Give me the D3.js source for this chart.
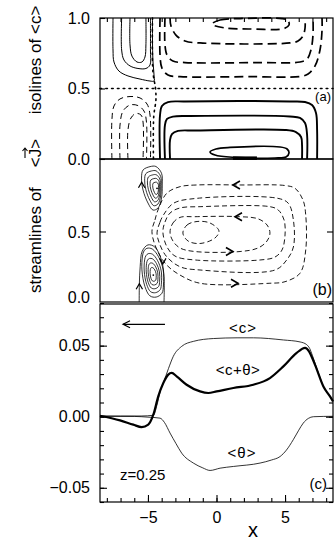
<!DOCTYPE html>
<html>
<head>
<meta charset="utf-8">
<script src="https://cdn.jsdelivr.net/npm/d3@7"></script>
<style>
  body { margin: 0; background: #fff; }
  text { font-family: "Liberation Sans", Arial, sans-serif; fill: #000; }
</style>
</head>
<body>
<svg width="335" height="540"></svg>
<script>
// ---- tick labels ----
const xTickLabels = [-5, 0, 5];
const zTickLabels = [0, 0.5, 1];
const cTickLabels = [-0.05, 0, 0.05];

// ---- panel (c): profiles at z = 0.25, [x, value] ----
const cMean = [[-8.5, 0.0005], [-7, 0.0005], [-5.5, 0.0005], [-4.6, 0.001], [-4.35, 0.008], [-4.1, 0.018],
  [-3.88, 0.0237], [-3.5, 0.034], [-3.15, 0.0425], [-2.54, 0.0495], [-1.69, 0.053], [-0.23, 0.055],
  [1.5, 0.0555], [2.69, 0.0555], [4.88, 0.054], [6.1, 0.0526], [6.58, 0.0507], [6.8, 0.048],
  [7.0, 0.043], [7.31, 0.0343], [7.8, 0.0213], [8.28, 0.0143], [8.5, 0.0108]];
const thetaMean = [[-8.5, 0.0003], [-6, 0.0002], [-5, -0.0003], [-4.12, -0.001], [-3.8, -0.004],
  [-3.39, -0.0115], [-2.95, -0.019], [-2.54, -0.0256], [-1.69, -0.0326], [-1.0, -0.036], [-0.47, -0.0378],
  [0.26, -0.0362], [1.23, -0.035], [3.18, -0.0326], [4.0, -0.0305], [4.64, -0.028], [5.1, -0.0235],
  [5.6, -0.0162], [6.0, -0.0095], [6.33, -0.0045], [6.7, -0.0012], [7.07, 0], [8.5, 0.0003]];
const cPlusTheta = [[-8.5, 0.0007], [-7.04, -0.0026], [-6.07, -0.0056], [-5.46, -0.0073], [-4.98, -0.0056],
  [-4.61, 0.0014], [-4.25, 0.0143], [-3.88, 0.0237], [-3.52, 0.0296], [-3.27, 0.0308], [-2.91, 0.0284],
  [-2.18, 0.0225], [-1.2, 0.0178], [-0.6, 0.0167], [0.01, 0.0178], [1.23, 0.0202], [2.69, 0.0225],
  [3.9, 0.0272], [4.88, 0.0354], [5.85, 0.0449], [6.46, 0.0484], [6.75, 0.046], [7.0, 0.041],
  [7.31, 0.0335], [7.8, 0.0213], [8.28, 0.0143], [8.5, 0.0108]];
const arrowC = [[-3.76, 0.065], [-6.82, 0.065]];

// ---- panel (a): isolines of <c>, [x, z] ----
const isoUpperLeft = [
  [[-7.55, 1], [-7.55, 0.773], [-7.48, 0.688], [-7.12, 0.624], [-6.46, 0.589], [-5.58, 0.567], [-4.85, 0.553], [-4.56, 0.553], [-4.56, 0.596], [-4.64, 0.702], [-4.67, 0.844], [-4.67, 1]],
  [[-6.92, 1], [-6.92, 0.773], [-6.75, 0.702], [-6.31, 0.66], [-5.73, 0.642], [-5.15, 0.642], [-4.85, 0.667], [-4.82, 0.773], [-4.82, 1]],
  [[-6.31, 1], [-6.31, 0.809], [-6.17, 0.73], [-5.8, 0.688], [-5.44, 0.688], [-5.22, 0.723], [-5.15, 0.809], [-5.15, 1]]
];
const isoUpperRight = [
  [[-4.12, 1], [-4.12, 0.738], [-3.98, 0.645], [-3.54, 0.596], [-2.66, 0.584], [2.45, 0.584], [6.09, 0.585], [6.68, 0.603], [7.19, 0.66], [7.55, 0.773], [7.7, 0.915], [7.7, 1]],
  [[-3.76, 1], [-3.76, 0.809], [-3.61, 0.738], [-3.18, 0.695], [-2.3, 0.684], [3.18, 0.684], [6.09, 0.688], [6.61, 0.709], [6.89, 0.773], [7.04, 0.879], [7.04, 1]],
  [[-3.39, 1], [-3.32, 0.943], [-2.96, 0.879], [-2.3, 0.837], [-1.2, 0.823], [5.36, 0.823], [5.95, 0.837], [6.31, 0.872], [6.46, 0.929], [6.46, 1]]
];
const isoUpperRightCore = [[-0.33, 0.957], [0.26, 0.986], [1.72, 0.996], [4.78, 0.996], [5.22, 0.982], [5.29, 0.95], [4.93, 0.925], [2.45, 0.922], [0.62, 0.929]];
const isoLowerLeft = [
  [[-7.63, 0], [-7.63, 0.277], [-7.48, 0.376], [-7.04, 0.426], [-6.31, 0.443], [-5.58, 0.433], [-5.07, 0.39], [-4.85, 0.312], [-4.82, 0]],
  [[-7.04, 0], [-7.04, 0.241], [-6.82, 0.34], [-6.31, 0.383], [-5.73, 0.379], [-5.29, 0.34], [-5.11, 0.262], [-5.11, 0]],
  [[-6.46, 0], [-6.46, 0.206], [-6.24, 0.291], [-5.88, 0.323], [-5.51, 0.312], [-5.36, 0.262], [-5.36, 0]]
];
const isoLowerRight = [
  [[-4.12, 0], [-4.12, 0.312], [-3.98, 0.376], [-3.54, 0.404], [-2.3, 0.408], [5.36, 0.408], [6.46, 0.404], [6.97, 0.383], [7.26, 0.326], [7.34, 0.206], [7.34, 0]],
  [[-3.76, 0], [-3.76, 0.241], [-3.61, 0.284], [-3.18, 0.301], [-1.93, 0.305], [5.36, 0.301], [6.09, 0.291], [6.46, 0.255], [6.61, 0.17], [6.61, 0]],
  [[-3.39, 0], [-3.39, 0.135], [-3.25, 0.177], [-2.81, 0.199], [-1.57, 0.202], [5.0, 0.206], [5.8, 0.191], [6.17, 0.156], [6.24, 0.099], [6.24, 0]]
];
const isoLowerRightCore = [[-0.47, 0.05], [-0.04, 0.071], [0.99, 0.082], [4.64, 0.085], [5.15, 0.071], [5.29, 0.043], [5.07, 0.014], [4.27, 0.007], [1.35, 0.011], [-0.11, 0.028]];
const isoSmear = [[1.2, 0.006], [2.95, 0.006]];
const zeroLineV = [[-4.67, 1], [-4.64, 0.62], [-4.45, 0.5], [-4.42, 0.42], [-4.58, 0.3], [-4.6, 0]];
const zeroLineH = [[-8.5, 0.5], [8.5, 0.5]];

// ---- panel (b): streamlines of <J>, [x, z] ----
const eddyTop = [[-4.85, 0.96], [-4.42, 0.961], [-4.01, 0.913], [-3.96, 0.83], [-4.01, 0.738], [-4.26, 0.667], [-4.63, 0.652], [-5.0, 0.702], [-5.36, 0.794], [-5.47, 0.879], [-5.36, 0.936]];
const eddyTopCenter = [-4.34, 0.806];
const eddyBottom = [[-5.07, 0.381], [-4.69, 0.376], [-4.23, 0.321], [-3.89, 0.227], [-3.87, 0.121], [-3.98, 0.062], [-4.4, 0.035], [-4.85, 0.043], [-5.22, 0.109], [-5.44, 0.227], [-5.4, 0.326], [-5.29, 0.362]];
const eddyBottomCenter = [-4.61, 0.191];
const eddyScales = [1, 0.8, 0.62, 0.45, 0.28];
const openStream = [[-5.64, 0], [-5.63, 0.12], [-5.57, 0.25], [-5.42, 0.36], [-5.0, 0.405], [-4.5, 0.39], [-4.02, 0.3], [-3.83, 0.18], [-3.83, 0]];
const jLoops = [
  [[-4.71, 0.499], [-4.49, 0.582], [-4.27, 0.652], [-3.63, 0.771], [-2.66, 0.818], [-1.42, 0.83], [1.72, 0.83], [5.0, 0.826], [5.73, 0.806], [6.31, 0.723], [6.51, 0.617], [6.51, 0.369], [6.09, 0.204], [5.0, 0.144], [3.9, 0.133], [-1.2, 0.133], [-2.66, 0.191], [-3.63, 0.262], [-4.34, 0.369]],
  [[-4.34, 0.49], [-4.12, 0.567], [-3.87, 0.617], [-3.14, 0.7], [-1.45, 0.735], [4.49, 0.735], [5.24, 0.7], [5.61, 0.582], [5.61, 0.39], [5.12, 0.298], [4.27, 0.227], [-1.2, 0.227], [-2.66, 0.25], [-3.63, 0.321], [-4.12, 0.404]],
  [[-3.91, 0.496], [-3.76, 0.567], [-3.39, 0.631], [-2.66, 0.667], [-1.2, 0.676], [3.9, 0.676], [4.51, 0.652], [4.93, 0.582], [5.0, 0.475], [4.78, 0.369], [4.27, 0.319], [3.18, 0.298], [-1.57, 0.298], [-3.03, 0.326], [-3.61, 0.39]],
  [[-3.39, 0.496], [-3.18, 0.56], [-2.66, 0.6], [-1.57, 0.605], [1.72, 0.605], [3.03, 0.59], [3.69, 0.546], [3.9, 0.489], [3.69, 0.433], [3.03, 0.383], [1.72, 0.358], [-1.57, 0.358], [-2.66, 0.383], [-3.18, 0.433]]
];
const jCore = [[-2.45, 0.489], [-2.15, 0.546], [-1.42, 0.571], [-0.47, 0.56], [0.18, 0.504], [-0.11, 0.454], [-1.2, 0.415], [-2.08, 0.433]];
// arrow heads: [x, z, heading in degrees (0 = right, 180 = left, -90 = up)]
const arrowsB = [[1.2, 0.83, 180], [1.35, 0.605, 180], [1.2, 0.358, 0], [1.57, 0.133, 0],
  [-5.46, 0.85, -90], [-3.92, 0.27, 90], [-5.63, 0.13, -90]];

// ---- layout ----
const svg = d3.select('svg');
const X0 = 100, X1 = 333;
const x = d3.scaleLinear().domain([-8.5, 8.5]).range([X0, X1]);
const ya = d3.scaleLinear().domain([0, 1]).range([159, 18]);
const yb = d3.scaleLinear().domain([0, 1]).range([302, 161]);
const yc = d3.scaleLinear().domain([-0.06, 0.08]).range([502, 303]);

function gen(y, curve) {
  return d3.line().x(d => x(d[0])).y(d => y(d[1])).curve(curve);
}
const cr = d3.curveCatmullRom.alpha(0.5);
const crc = d3.curveCatmullRomClosed.alpha(0.5);

function draw(d, lineGen, width, dash) {
  const p = svg.append('path').attr('d', lineGen(d)).attr('fill', 'none')
    .attr('stroke', '#000').attr('stroke-width', width).attr('stroke-linejoin', 'round');
  if (dash) p.attr('stroke-dasharray', dash);
  return p;
}

// ---- panel (a) ----
const la = gen(ya, cr), lac = gen(ya, crc);
isoUpperLeft.forEach(d => draw(d, la, 1));
isoUpperRight.forEach(d => draw(d, la, 1.7, '9,5'));
draw(isoUpperRightCore, lac, 1.7, '9,5');
isoLowerLeft.forEach(d => draw(d, la, 1, '6,4'));
isoLowerRight.forEach(d => draw(d, la, 1.9));
draw(isoLowerRightCore, lac, 1.7);
draw(isoSmear, gen(ya, d3.curveLinear), 3.5);
draw(zeroLineH, gen(ya, d3.curveLinear), 1.6, '1.6,4.2').attr('stroke-linecap', 'round');
draw(zeroLineV, la, 1.6, '1.6,4.2').attr('stroke-linecap', 'round');

// ---- panel (b) ----
const lb = gen(yb, cr), lbc = gen(yb, crc);
[[eddyTop, eddyTopCenter], [eddyBottom, eddyBottomCenter]].forEach(([loop, c]) => {
  eddyScales.forEach(s => {
    draw(loop.map(p => [c[0] + s * (p[0] - c[0]), c[1] + s * (p[1] - c[1])]), lbc, 0.8);
  });
  svg.append('circle').attr('cx', x(c[0])).attr('cy', yb(c[1])).attr('r', 0.9).attr('fill', '#000');
});
draw(openStream, lb, 0.8);
jLoops.forEach(d => draw(d, lbc, 0.9, '5,3'));
draw(jCore, lbc, 0.9, '5,3');
arrowsB.forEach(a => {
  const big = Math.abs(a[2]) !== 90;
  const s = big ? 1 : 0.8;
  svg.append('path')
    .attr('d', `M${-7 * s},${-4 * s}L0,0L${-7 * s},${4 * s}`)
    .attr('transform', `translate(${x(a[0])},${yb(a[1])}) rotate(${a[2]})`)
    .attr('fill', 'none').attr('stroke', '#000').attr('stroke-width', big ? 1.6 : 1.2);
});

// ---- panel (c) ----
const lc = gen(yc, d3.curveMonotoneX);
draw(cMean, lc, 0.8);
draw(thetaMean, lc, 0.8);
draw(cPlusTheta, lc, 2.2);
draw(arrowC, gen(yc, d3.curveLinear), 1.2);
svg.append('path').attr('d', 'M-7,-3.5L0,0L-7,3.5')
  .attr('transform', `translate(${x(arrowC[1][0])},${yc(arrowC[1][1])}) rotate(180)`)
  .attr('fill', 'none').attr('stroke', '#000').attr('stroke-width', 1.2);

// ---- frames ----
[[18, 159], [159, 302], [304, 502]].forEach(([t, b]) => {
  svg.append('rect').attr('x', X0).attr('y', t).attr('width', X1 - X0).attr('height', b - t)
    .attr('fill', 'none').attr('stroke', '#000').attr('stroke-width', 1.2);
});

// ---- axes ----
function axis(a, tx, ty, size) {
  const g = svg.append('g').attr('transform', `translate(${tx},${ty})`).call(a);
  g.select('.domain').remove();
  g.selectAll('line').attr('stroke-width', 1.1);
  g.selectAll('text').attr('font-size', size || 16).attr('font-family', '"Liberation Sans", Arial, sans-serif');
  return g;
}
const minorX = d3.range(-8, 9);
const minorC = d3.range(-6, 9).map(v => v / 100);
axis(d3.axisBottom(x).tickValues(minorX).tickSize(-4).tickFormat(''), 0, 502);
axis(d3.axisBottom(x).tickValues(xTickLabels).tickSize(-7).tickPadding(10).tickFormat(d3.format('d')), 0, 502);
axis(d3.axisTop(x).tickValues(minorX).tickSize(-4).tickFormat(''), 0, 18);
axis(d3.axisLeft(yc).tickValues(minorC).tickSize(-4).tickFormat(''), X0, 0);
axis(d3.axisRight(yc).tickValues(minorC).tickSize(-4).tickFormat(''), X1, 0);
axis(d3.axisLeft(yc).tickValues(cTickLabels).tickSize(-7).tickPadding(10).tickFormat(d3.format('.2f')), X0, 0);
axis(d3.axisRight(yc).tickValues(cTickLabels).tickSize(-7).tickFormat(''), X1, 0);
axis(d3.axisLeft(ya).tickValues(zTickLabels).tickSize(-5).tickPadding(10).tickFormat(d3.format('.1f')), X0, 0);
axis(d3.axisLeft(yb).tickValues([0.5]).tickSize(-6).tickFormat(''), X0, 0);
axis(d3.axisRight(yb).tickValues([0.5]).tickSize(-6).tickFormat(''), X1, 0);
// panel (b) labels sit just inside the frame
svg.selectAll(null).data([0, 0.5]).enter().append('text')
  .attr('x', 90).attr('y', d => yb(d) + (d === 0 ? -5 : 1)).attr('dy', '0.35em')
  .attr('text-anchor', 'end').attr('font-size', 16).text(d3.format('.1f'));

// ---- texts ----
function label(t, px, py, size, anchor) {
  return svg.append('text').attr('x', px).attr('y', py).attr('font-size', size)
    .attr('text-anchor', anchor || 'middle').text(t);
}
label('x', 253, 537, 20);
label('(a)', 331, 101, 13, 'end');
label('(b)', 332, 295, 16, 'end');
label('(c)', 327, 489, 15, 'end');
label('<c>', 243, 333, 15).attr('letter-spacing', 1);
label('<c+θ>', 238, 375, 15).attr('letter-spacing', 0.5);
label('<θ>', 242, 458, 15).attr('letter-spacing', 1);
label('z=0.25', 120, 480, 15, 'start');

svg.append('text').attr('transform', 'translate(41,60) rotate(-90)')
  .attr('text-anchor', 'middle').attr('font-size', 17).text('isolines of <c>');
svg.append('text').attr('transform', 'translate(41,293) rotate(-90)')
  .attr('text-anchor', 'start').attr('font-size', 17).text('streamlines of');
const gJ = svg.append('g').attr('transform', 'translate(41,153) rotate(-90)');
gJ.append('text').attr('text-anchor', 'middle').attr('font-size', 17).text('<J>');
gJ.append('path').attr('d', 'M-5,-16L5,-16M2,-18.5L5,-16L2,-13.5')
  .attr('fill', 'none').attr('stroke', '#000').attr('stroke-width', 1.1);
</script>
</body>
</html>
